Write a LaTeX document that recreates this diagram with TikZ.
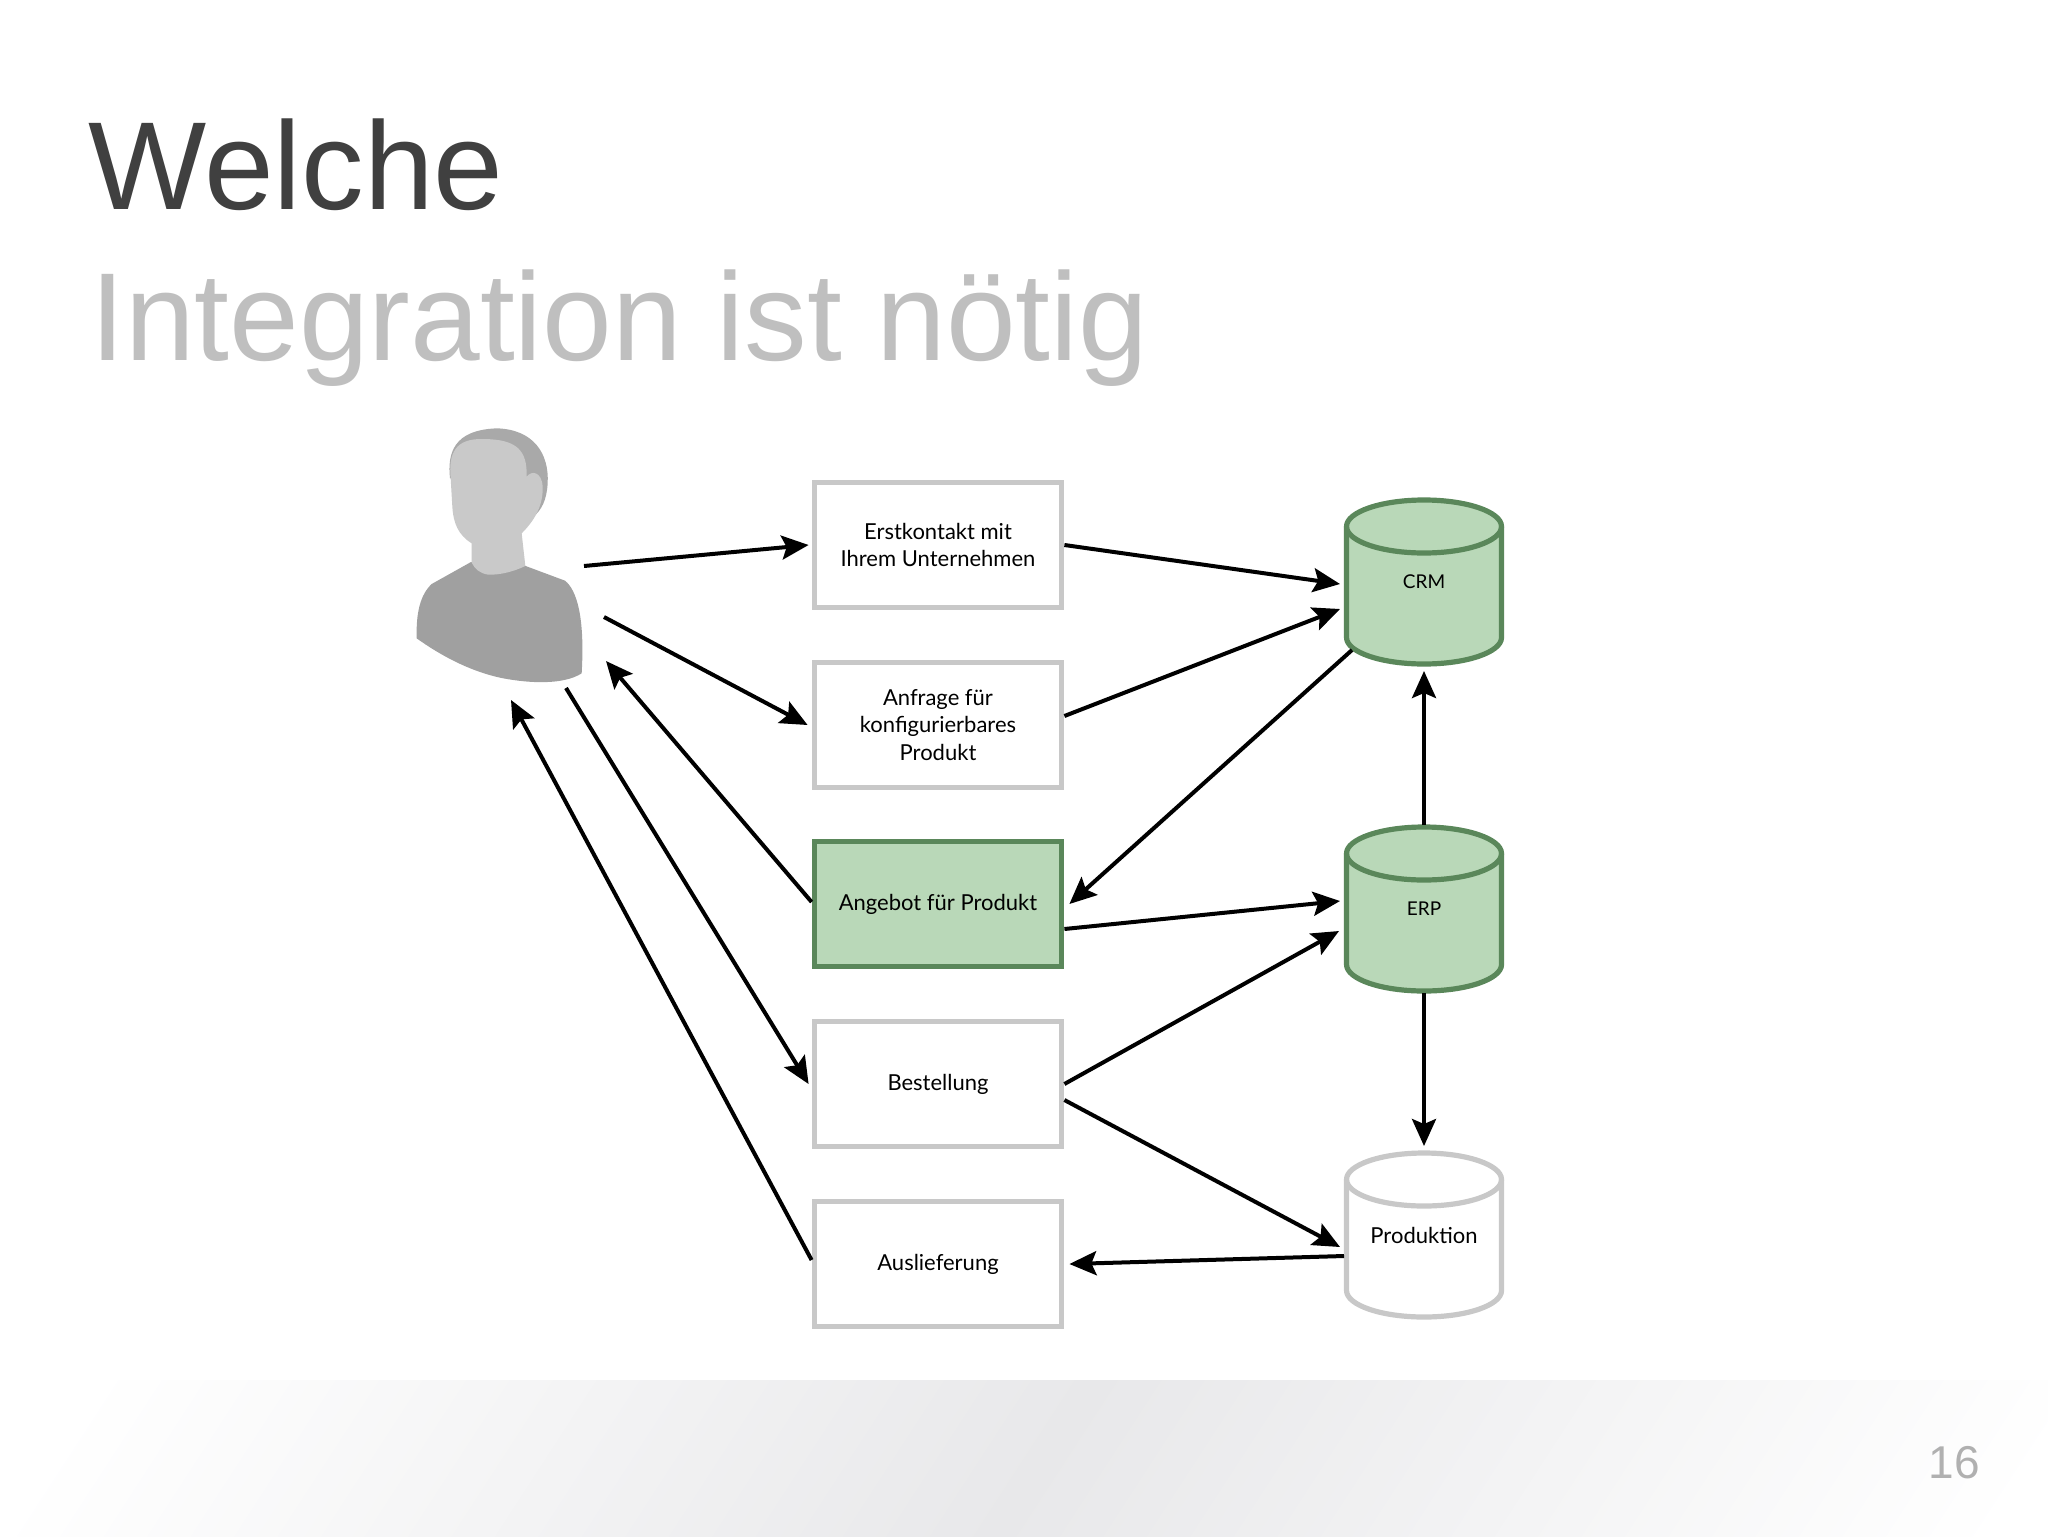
\documentclass[tikz,border=0pt]{standalone}
\usepackage{fontspec}
\setmainfont{Liberation Sans}
\newfontfamily\boxfont{Lato}
\usetikzlibrary{arrows.meta}
\definecolor{titledark}{HTML}{404040}
\definecolor{titlelight}{HTML}{BFBFBF}
\definecolor{pagegray}{HTML}{B0B0B0}
\definecolor{bandgray}{HTML}{E8E8EA}
\definecolor{boxgray}{HTML}{C8C8C8}
\definecolor{boxgreen}{HTML}{B9D8B8}
\definecolor{edgegreen}{HTML}{5A875A}
\definecolor{bodygray}{HTML}{A0A0A0}
\definecolor{hairgray}{HTML}{A9A9A9}
\definecolor{facegray}{HTML}{C9C9C9}
\pgfdeclarehorizontalshading{bandfade}{100bp}{color(0bp)=(white); color(32.4bp)=(white); color(50bp)=(bandgray); color(67.6bp)=(white); color(100bp)=(white)}
\tikzset{
	formbox/.style={draw=boxgray,fill=white,line width=2.6pt,minimum width=123.8pt,minimum height=62.6pt,inner sep=0pt,align=center,
		font=\boxfont\fontsize{11}{13.7}\selectfont},
	formboxgreen/.style={formbox,draw=edgegreen,fill=boxgreen},
	dblabel/.style={minimum width=80pt,minimum height=84pt,inner sep=0pt,outer sep=0pt,
		font=\boxfont\fontsize{11}{14}\selectfont},
	dbgray/.style={draw=boxgray,fill=white,line width=2.6pt},
	dbgreen/.style={draw=edgegreen,fill=boxgreen,line width=2.6pt},
	flow/.style={-{Stealth[length=13.5pt,width=12pt,inset=2.5pt]},line width=2pt,black},
	titletext/.style={anchor=base west,inner sep=0pt,font=\fontsize{62.6}{62.6}\selectfont},
}
% name, x, y, text, look
\newcommand{\drum}[5]{
	\begin{scope}[shift={(#2,#3)}]
		\draw[#5] (-77.5,-55.5) -- (-77.5,55.5) arc[start angle=180,end angle=0,x radius=77.5,y radius=26.5]
			-- (77.5,-55.5) arc[start angle=0,end angle=-180,x radius=77.5,y radius=26.5] -- cycle;
		\draw[#5,fill=none] (-77.5,-55.5) arc[start angle=180,end angle=0,x radius=77.5,y radius=26.5];
	\end{scope}
	\node[dblabel] (#1) at (#2,#3) {#4};
}
\begin{document}
\begin{tikzpicture}[x=.5pt,y=-.5pt]
	\useasboundingbox (0,0) rectangle (2048,1536);
	\fill[white] (0,0) rectangle (2048,1536);
	% footer band
	\begin{scope}
		\clip (0,1380) rectangle (2048,1536);
		\shade[shading=bandfade,shading angle=-33] (-155,258) rectangle (2245,2658);
	\end{scope}
	\node[anchor=base east,inner sep=0pt,text=pagegray,font=\fontsize{23}{23}\selectfont] (pagenum) at (1980,1478) {16};
	% title
	\node[titletext,text=titledark] (titleA) at (88,209) {Welche};
	\node[titletext,text=titlelight] (titleB) at (90,360) {Integration ist nötig};
	% person
	\begin{scope}[xshift=195pt,yshift=-205pt,x=.16667pt,y=-.16667pt]
		\fill[hairgray] (180,205) .. controls (172,130) and (190,60) .. (320,55)
			.. controls (430,58) and (478,130) .. (473,220) .. controls (470,270) and (455,300) .. (430,320) -- (300,200) -- cycle;
		\fill[bodygray] (80,685) .. controls (78,610) and (90,555) .. (125,522) -- (243,456) -- (407,468)
			-- (525,512) .. controls (560,540) and (585,620) .. (575,790)
			.. controls (520,825) and (420,820) .. (340,805) .. controls (240,785) and (150,735) .. (80,685) -- cycle;
		\fill[facegray] (182,205) .. controls (175,130) and (195,85) .. (280,87)
			.. controls (380,88) and (412,120) .. (410,200) .. controls (425,180) and (455,185) .. (458,230)
			.. controls (460,290) and (430,335) .. (395,370) -- (406,468)
			.. controls (370,485) and (330,495) .. (295,494) .. controls (270,490) and (255,478) .. (245,458)
			-- (245,400) .. controls (205,375) and (190,340) .. (187,290) -- cycle;
	\end{scope}
	\coordinate (userA) at (584,566);
	\coordinate (userB) at (604,617);
	\coordinate (userC) at (606,661);
	\coordinate (userD) at (566,688);
	\coordinate (userE) at (511,700);
	% forms
	\node[formbox] (erst) at (938,545) {Erstkontakt mit\\Ihrem Unternehmen};
	\node[formbox] (anfrage) at (938,725) {Anfrage für\\konfigurierbares\\Produkt};
	\node[formboxgreen] (angebot) at (938,904) {Angebot für Produkt};
	\node[formbox] (bestellung) at (938,1084) {Bestellung};
	\node[formbox] (auslieferung) at (938,1264) {Auslieferung};
	% systems
	\drum{crm}{1424}{582}{\fontsize{9.5}{12}\selectfont CRM}{dbgreen}
	\drum{erp}{1424}{909}{\fontsize{9.5}{12}\selectfont ERP}{dbgreen}
	\drum{produktion}{1424}{1235}{Produktion}{dbgray}
	% person and forms
	\draw[flow] (userA) -- ([xshift=-1.5pt]erst.west);
	\draw[flow] (userB) -- ([xshift=-2pt]anfrage.west);
	\draw[flow] ([yshift=1pt]angebot.west) -- (userC);
	\draw[flow] (userD) -- ([xshift=-1.5pt]bestellung.west);
	\draw[flow] ([yshift=2pt]auslieferung.west) -- (userE);
	% forms and systems
	\draw[flow] (erst.east) -- ([xshift=-2pt,yshift=-1pt]crm.west);
	\draw[flow] ([yshift=4.5pt]anfrage.east) -- ([xshift=-2pt,yshift=-13.5pt]crm.west);
	\draw[flow] ([xshift=-36pt,yshift=-34pt]crm.center) -- ([xshift=2.5pt]angebot.east);
	\draw[flow] ([yshift=-12.5pt]angebot.east) -- ([xshift=-2pt,yshift=4pt]erp.west);
	\draw[flow] (bestellung.east) -- ([xshift=-2.5pt,yshift=-11pt]erp.west);
	\draw[flow] ([yshift=-8pt]bestellung.east) -- ([xshift=-2pt,yshift=-6pt]produktion.west);
	\draw[flow] ([yshift=-10.5pt]produktion.west) -- ([xshift=2.5pt]auslieferung.east);
	\draw[flow] (erp.north) -- ([yshift=-2.5pt]crm.south);
	\draw[flow] (erp.south) -- ([yshift=2.5pt]produktion.north);
\end{tikzpicture}
\end{document}
